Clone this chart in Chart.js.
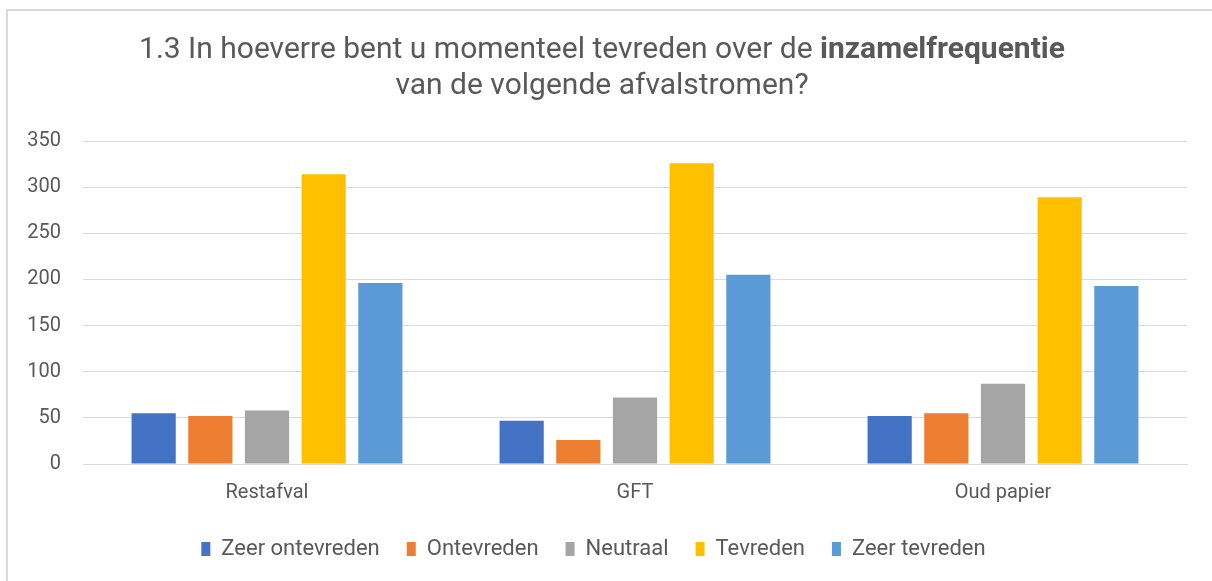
<!DOCTYPE html>
<html>
<head>
<meta charset="utf-8">
<script src="https://cdn.jsdelivr.net/npm/chart.js@4.4.0/dist/chart.umd.min.js"></script>
<style>
  html, body { margin: 0; padding: 0; background: #fff; overflow: hidden; }
  #frame { position: absolute; left: 6px; top: 9px; width: 1400px; height: 800px; border: 2px solid #d9d9d9; }
  #chart { position: absolute; left: 0; top: 0; }
</style>
</head>
<body>
<div id="frame"></div>
<canvas id="chart" width="1212" height="581"></canvas>
<script>
const FONT = "'Roboto', sans-serif";
const TEXT_COLOR = '#595959';

const categories = ['Restafval', 'GFT', 'Oud papier'];
const seriesNames = ['Zeer ontevreden', 'Ontevreden', 'Neutraal', 'Tevreden', 'Zeer tevreden'];
const seriesColors = ['#4472C4', '#ED7D31', '#A5A5A5', '#FFC000', '#5B9BD5'];
const zeerOntevreden = [55, 47, 52];
const ontevreden = [52, 26, 55];
const neutraal = [58, 72, 87];
const tevreden = [314, 326, 289];
const zeerTevreden = [196, 205, 193];
const titleLine1 = ['1.3 In hoeverre bent u momenteel tevreden over de ', 'inzamelfrequentie'];
const titleLine2 = 'van de volgende afvalstromen?';

const seriesValues = [zeerOntevreden, ontevreden, neutraal, tevreden, zeerTevreden];

const titlePlugin = {
  id: 'mixedTitle',
  afterDraw(chart) {
    const ctx = chart.ctx;
    const cx = 602;
    ctx.save();
    ctx.fillStyle = TEXT_COLOR;
    ctx.textBaseline = 'middle';
    ctx.textAlign = 'left';
    const normal = '30px ' + FONT;
    const bold = 'bold 30px ' + FONT;
    ctx.font = normal;
    const w1 = ctx.measureText(titleLine1[0]).width;
    ctx.font = bold;
    const w2 = ctx.measureText(titleLine1[1]).width;
    const x = cx - (w1 + w2) / 2;
    ctx.font = normal;
    ctx.fillText(titleLine1[0], x, 50);
    ctx.font = bold;
    ctx.fillText(titleLine1[1], x + w1, 50);
    ctx.font = normal;
    ctx.textAlign = 'center';
    ctx.fillText(titleLine2, cx, 86);
    ctx.restore();
  }
};

new Chart(document.getElementById('chart'), {
  type: 'bar',
  data: {
    labels: categories,
    datasets: seriesNames.map((name, i) => ({
      label: name,
      data: seriesValues[i],
      backgroundColor: seriesColors[i],
      categoryPercentage: 0.77,
      barPercentage: 0.78
    }))
  },
  options: {
    responsive: false,
    animation: false,
    layout: { padding: { top: 141, right: 25, left: 0, bottom: 11 } },
    plugins: {
      title: { display: false },
      tooltip: { enabled: false },
      legend: {
        position: 'bottom',
        labels: {
          boxWidth: 9,
          boxHeight: 14,
          padding: 27,
          color: TEXT_COLOR,
          font: { family: FONT, size: 22 }
        }
      }
    },
    scales: {
      x: {
        afterFit(scale) { scale.height -= 11; },
        grid: { display: false, drawTicks: false },
        border: { display: true, color: '#d9d9d9', width: 1 },
        ticks: { color: TEXT_COLOR, font: { family: FONT, size: 20 }, padding: 17 }
      },
      y: {
        min: 0,
        max: 350,
        afterFit(scale) { scale.width = 83; },
        grid: { color: '#d9d9d9', lineWidth: 1, drawTicks: false },
        border: { display: false },
        ticks: { stepSize: 50, color: TEXT_COLOR, font: { family: FONT, size: 20 }, padding: 22 }
      }
    }
  },
  plugins: [titlePlugin]
});
</script>
</body>
</html>
